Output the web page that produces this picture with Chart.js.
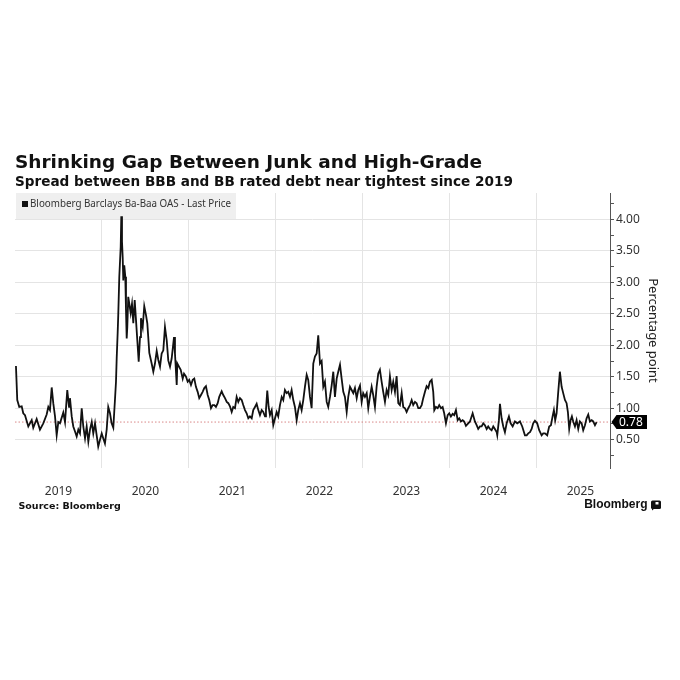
<!DOCTYPE html>
<html>
<head>
<meta charset="utf-8">
<script src="https://cdn.jsdelivr.net/npm/chart.js@4.4.1/dist/chart.umd.min.js"></script>
<style>
  html, body { margin: 0; padding: 0; background: #fff; }
  canvas { display: block; }
</style>
</head>
<body>
<canvas id="spread" width="680" height="680"></canvas>
<script>
// Bloomberg Barclays Ba-Baa OAS (decimal years / percentage points)
var times = [
  2019.011, 2019.026, 2019.049, 2019.077, 2019.095, 2019.115, 2019.153, 2019.192, 2019.210, 2019.249,
  2019.287, 2019.325, 2019.364, 2019.383, 2019.402, 2019.422, 2019.440, 2019.460, 2019.479, 2019.498,
  2019.517, 2019.555, 2019.575, 2019.601, 2019.621, 2019.632, 2019.652, 2019.670, 2019.690, 2019.709,
  2019.728, 2019.747, 2019.767, 2019.785, 2019.805, 2019.824, 2019.843, 2019.862, 2019.882, 2019.900,
  2019.920, 2019.939, 2019.957, 2019.977, 2019.997, 2020.015, 2020.034, 2020.054, 2020.072, 2020.092,
  2020.111, 2020.130, 2020.149, 2020.161, 2020.169, 2020.180, 2020.187, 2020.199, 2020.215, 2020.222,
  2020.230, 2020.238, 2020.245, 2020.256, 2020.268, 2020.276, 2020.284, 2020.291, 2020.302, 2020.314,
  2020.330, 2020.345, 2020.360, 2020.376, 2020.391, 2020.406, 2020.422, 2020.437, 2020.448, 2020.468,
  2020.486, 2020.506, 2020.521, 2020.544, 2020.571, 2020.590, 2020.609, 2020.629, 2020.647, 2020.667,
  2020.686, 2020.705, 2020.724, 2020.744, 2020.762, 2020.782, 2020.801, 2020.828, 2020.839, 2020.859,
  2020.866, 2020.885, 2020.905, 2020.928, 2020.943, 2020.966, 2020.985, 2021.003, 2021.023, 2021.043,
  2021.061, 2021.080, 2021.100, 2021.118, 2021.138, 2021.157, 2021.176, 2021.195, 2021.215, 2021.233,
  2021.253, 2021.272, 2021.291, 2021.310, 2021.330, 2021.348, 2021.376, 2021.394, 2021.414, 2021.434,
  2021.452, 2021.471, 2021.491, 2021.509, 2021.529, 2021.548, 2021.567, 2021.586, 2021.606, 2021.624,
  2021.644, 2021.663, 2021.682, 2021.701, 2021.721, 2021.739, 2021.759, 2021.778, 2021.797, 2021.816,
  2021.836, 2021.854, 2021.874, 2021.885, 2021.900, 2021.916, 2021.931, 2021.951, 2021.969, 2021.989,
  2022.008, 2022.026, 2022.046, 2022.066, 2022.084, 2022.103, 2022.123, 2022.141, 2022.161, 2022.180,
  2022.199, 2022.218, 2022.238, 2022.256, 2022.276, 2022.295, 2022.314, 2022.333, 2022.353, 2022.371,
  2022.391, 2022.410, 2022.429, 2022.448, 2022.468, 2022.486, 2022.506, 2022.525, 2022.544, 2022.563,
  2022.583, 2022.601, 2022.621, 2022.640, 2022.659, 2022.678, 2022.698, 2022.716, 2022.736, 2022.755,
  2022.774, 2022.793, 2022.813, 2022.831, 2022.851, 2022.870, 2022.889, 2022.908, 2022.928, 2022.946,
  2022.966, 2022.985, 2023.003, 2023.023, 2023.043, 2023.061, 2023.080, 2023.100, 2023.118, 2023.138,
  2023.157, 2023.176, 2023.195, 2023.215, 2023.233, 2023.253, 2023.272, 2023.291, 2023.310, 2023.330,
  2023.348, 2023.368, 2023.387, 2023.406, 2023.425, 2023.445, 2023.463, 2023.483, 2023.502, 2023.521,
  2023.540, 2023.560, 2023.578, 2023.598, 2023.617, 2023.636, 2023.655, 2023.675, 2023.693, 2023.713,
  2023.732, 2023.751, 2023.770, 2023.790, 2023.808, 2023.820, 2023.839, 2023.859, 2023.877, 2023.897,
  2023.916, 2023.934, 2023.954, 2023.974, 2023.992, 2024.011, 2024.031, 2024.049, 2024.069, 2024.089,
  2024.107, 2024.126, 2024.146, 2024.164, 2024.184, 2024.210, 2024.230, 2024.261, 2024.287, 2024.307,
  2024.325, 2024.345, 2024.364, 2024.383, 2024.402, 2024.422, 2024.440, 2024.460, 2024.479, 2024.498,
  2024.517, 2024.537, 2024.544, 2024.563, 2024.575, 2024.594, 2024.613, 2024.632, 2024.652, 2024.678,
  2024.698, 2024.721, 2024.747, 2024.774, 2024.805, 2024.831, 2024.862, 2024.882, 2024.900, 2024.920,
  2024.939, 2024.957, 2024.977, 2025.003, 2025.026, 2025.054, 2025.072, 2025.092, 2025.118, 2025.141,
  2025.161, 2025.180, 2025.195, 2025.210, 2025.226, 2025.245, 2025.264, 2025.284, 2025.302, 2025.322,
  2025.341, 2025.356, 2025.371, 2025.387, 2025.402, 2025.417, 2025.437, 2025.456, 2025.475, 2025.494,
  2025.514, 2025.532, 2025.552, 2025.571, 2025.590, 2025.609, 2025.629, 2025.647, 2025.667, 2025.686
];
var values = [
  1.67, 1.13, 1.02, 1.03, 0.92, 0.89, 0.71, 0.81, 0.69, 0.83,
  0.66, 0.76, 0.90, 1.02, 0.97, 1.33, 1.08, 0.87, 0.57, 0.78,
  0.76, 0.93, 0.78, 1.29, 1.02, 1.16, 0.87, 0.71, 0.63, 0.55,
  0.66, 0.60, 1.00, 0.71, 0.52, 0.71, 0.47, 0.66, 0.78, 0.60,
  0.76, 0.57, 0.39, 0.50, 0.60, 0.52, 0.44, 0.66, 1.02, 0.92,
  0.76, 0.69, 1.13, 1.42, 1.79, 2.19, 2.48, 3.09, 3.56, 4.05,
  3.65, 3.40, 3.03, 3.27, 3.09, 2.56, 2.11, 2.29, 2.77, 2.66,
  2.51, 2.66, 2.35, 2.72, 2.40, 2.08, 1.74, 2.13, 2.43, 2.29,
  2.62, 2.48, 2.35, 1.88, 1.71, 1.58, 1.71, 1.91, 1.77, 1.66,
  1.87, 1.92, 2.29, 2.08, 1.76, 1.66, 1.79, 2.13, 1.87, 1.37,
  1.71, 1.66, 1.61, 1.47, 1.55, 1.50, 1.42, 1.45, 1.37, 1.45,
  1.47, 1.34, 1.26, 1.16, 1.21, 1.26, 1.32, 1.35, 1.21, 1.13,
  1.00, 1.05, 1.05, 1.02, 1.08, 1.18, 1.27, 1.21, 1.16, 1.10,
  1.08, 1.03, 0.94, 1.02, 1.00, 1.18, 1.10, 1.16, 1.13, 1.05,
  0.97, 0.92, 0.84, 0.87, 0.84, 0.97, 1.02, 1.07, 0.97, 0.89,
  0.97, 0.94, 0.87, 0.97, 1.28, 1.02, 0.89, 0.97, 0.73, 0.84,
  0.94, 0.87, 1.05, 1.18, 1.13, 1.29, 1.24, 1.26, 1.18, 1.29,
  1.13, 1.02, 0.81, 0.97, 1.08, 0.97, 1.13, 1.34, 1.53, 1.45,
  1.18, 1.00, 1.71, 1.82, 1.87, 2.16, 1.71, 1.75, 1.34, 1.42,
  1.10, 1.02, 1.18, 1.36, 1.58, 1.18, 1.47, 1.58, 1.69, 1.47,
  1.26, 1.18, 0.94, 1.18, 1.34, 1.29, 1.24, 1.32, 1.16, 1.29,
  1.36, 1.10, 1.24, 1.18, 1.24, 1.00, 1.18, 1.34, 1.21, 1.02,
  1.34, 1.55, 1.61, 1.42, 1.26, 1.10, 1.29, 1.21, 1.51, 1.29,
  1.42, 1.26, 1.51, 1.08, 1.05, 1.24, 1.02, 1.00, 0.94, 1.00,
  1.05, 1.13, 1.05, 1.10, 1.08, 1.00, 1.00, 1.05, 1.16, 1.26,
  1.35, 1.32, 1.42, 1.45, 1.26, 0.97, 1.02, 1.00, 1.05, 1.00,
  1.02, 0.92, 0.76, 0.89, 0.92, 0.87, 0.91, 0.89, 0.97, 0.81,
  0.84, 0.79, 0.81, 0.79, 0.72, 0.76, 0.79, 0.92, 0.79, 0.73,
  0.67, 0.71, 0.71, 0.76, 0.73, 0.67, 0.71, 0.67, 0.65, 0.71,
  0.67, 0.62, 0.57, 0.81, 1.07, 0.84, 0.71, 0.62, 0.76, 0.87,
  0.76, 0.71, 0.79, 0.76, 0.79, 0.71, 0.57, 0.57, 0.60, 0.62,
  0.67, 0.76, 0.80, 0.76, 0.65, 0.57, 0.60, 0.60, 0.57, 0.71,
  0.73, 0.87, 0.97, 0.81, 0.92, 1.26, 1.58, 1.34, 1.24, 1.13,
  1.08, 0.94, 0.67, 0.81, 0.87, 0.79, 0.71, 0.81, 0.67, 0.79,
  0.76, 0.65, 0.73, 0.84, 0.90, 0.79, 0.81, 0.79, 0.73, 0.78
];
var yearTicks = [2019, 2020, 2021, 2022, 2023, 2024, 2025];
var yTicks = [0.25, 0.5, 0.75, 1, 1.25, 1.5, 1.75, 2, 2.25, 2.5, 2.75, 3, 3.25, 3.5, 3.75, 4, 4.25];
var yLabelled = [0.5, 1, 1.5, 2, 2.5, 3, 3.5, 4];

var chartTitle = 'Shrinking Gap Between Junk and High-Grade';
var chartSubtitle = 'Spread between BBB and BB rated debt near tightest since 2019';
var seriesName = 'Bloomberg Barclays Ba-Baa OAS - Last Price';
var axisTitle = 'Percentage point';
var sourceText = 'Source: Bloomberg';
var lastValue = values[values.length - 1];

var decorations = {
  id: 'decorations',
  beforeDatasetsDraw: function(chart) {
    var ctx = chart.ctx;
    var area = chart.chartArea;
    var y = chart.scales.y.getPixelForValue(lastValue);
    ctx.save();
    // last price reference line
    ctx.strokeStyle = 'rgba(205, 95, 95, 0.75)';
    ctx.lineWidth = 1;
    ctx.setLineDash([1.5, 2]);
    ctx.beginPath();
    ctx.moveTo(area.left, y);
    ctx.lineTo(area.right, y);
    ctx.stroke();
    ctx.setLineDash([]);
    // legend box
    ctx.fillStyle = '#efefef';
    ctx.fillRect(area.left + 1, area.top, 220, 26);
    ctx.fillStyle = '#111';
    ctx.fillRect(area.left + 7, area.top + 8, 6, 6);
    ctx.fillStyle = '#333';
    ctx.font = '10px "Noto Sans"';
    ctx.textBaseline = 'alphabetic';
    ctx.fillText(seriesName, area.left + 15, area.top + 14, 201);
    ctx.restore();
  },
  afterDraw: function(chart) {
    var ctx = chart.ctx;
    var area = chart.chartArea;
    var y = chart.scales.y.getPixelForValue(lastValue);
    ctx.save();
    // titles
    ctx.fillStyle = '#111';
    ctx.textAlign = 'left';
    ctx.textBaseline = 'alphabetic';
    ctx.font = 'bold 18.5px "DejaVu Sans"';
    ctx.fillText(chartTitle, 15, 168);
    ctx.font = 'bold 13.6px "DejaVu Sans"';
    ctx.fillText(chartSubtitle, 15, 185.5);
    // last price tag
    var x0 = area.right + 1.5;
    ctx.fillStyle = '#000';
    ctx.beginPath();
    ctx.moveTo(x0, y);
    ctx.lineTo(x0 + 5, y - 7);
    ctx.lineTo(x0 + 35.5, y - 7);
    ctx.lineTo(x0 + 35.5, y + 7);
    ctx.lineTo(x0 + 5, y + 7);
    ctx.closePath();
    ctx.fill();
    ctx.fillStyle = '#fff';
    ctx.font = '12px "Noto Sans"';
    ctx.textBaseline = 'middle';
    ctx.fillText(lastValue.toFixed(2), x0 + 7.5, y + 0.5);
    // footer
    ctx.textBaseline = 'alphabetic';
    ctx.fillStyle = '#111';
    ctx.font = 'bold 9.5px "DejaVu Sans"';
    ctx.fillText(sourceText, 18.5, 509);
    ctx.font = 'bold 12px "Liberation Sans"';
    ctx.textAlign = 'right';
    ctx.fillText('Bloomberg', 647.5, 508);
    // logo mark
    ctx.fillStyle = '#111';
    ctx.beginPath();
    ctx.roundRect(651, 500.5, 10, 8.5, 1.5);
    ctx.fill();
    ctx.beginPath();
    ctx.moveTo(652, 508);
    ctx.lineTo(652, 510.5);
    ctx.lineTo(655, 508);
    ctx.fill();
    ctx.fillStyle = '#fff';
    ctx.fillRect(655.5, 502, 3, 2.5);
    ctx.restore();
  }
};

var spch = document.getElementById('spread').getContext('2d');

var spread = new Chart(spch, {
  type: 'line',
  data: {
    datasets: [{
      label: seriesName,
      data: times.map(function(t, i) { return { x: t, y: values[i] }; }),
      borderColor: '#111',
      borderWidth: 1.8,
      pointRadius: 0,
      tension: 0,
      fill: false
    }]
  },
  options: {
    responsive: false,
    animation: false,
    layout: {
      padding: { left: 15, top: 193, right: 0, bottom: 182 }
    },
    plugins: {
      legend: { display: false },
      tooltip: { enabled: false }
    },
    scales: {
      x: {
        type: 'linear',
        min: 2019,
        max: 2025.84,
        afterBuildTicks: function(scale) {
          scale.ticks = yearTicks.map(function(v) { return { value: v }; });
        },
        afterFit: function(scale) {
          scale.height = 30;
          scale.paddingLeft = 0;
          scale.paddingRight = 0;
        },
        border: { display: false },
        grid: {
          drawTicks: false,
          color: function(c) {
            return c.tick && c.tick.value === yearTicks[0] ? 'rgba(0,0,0,0)' : '#e4e4e4';
          }
        },
        ticks: {
          autoSkip: false,
          maxRotation: 0,
          labelOffset: 43.5,
          padding: 16,
          color: '#333',
          font: { family: 'Noto Sans', size: 12 },
          callback: function(v) { return String(v); }
        }
      },
      y: {
        position: 'right',
        min: 0.05,
        max: 4.42,
        afterBuildTicks: function(scale) {
          scale.ticks = yTicks.map(function(v) { return { value: v }; });
        },
        afterFit: function(scale) {
          scale.width = 70;
          scale.paddingTop = 0;
          scale.paddingBottom = 0;
        },
        border: { display: true, color: '#555', width: 1 },
        grid: {
          tickLength: 4,
          tickColor: '#555',
          color: function(c) {
            return c.tick && yLabelled.indexOf(c.tick.value) >= 0 ? '#e4e4e4' : 'rgba(0,0,0,0)';
          }
        },
        ticks: {
          autoSkip: false,
          padding: 2,
          color: '#333',
          font: { family: 'Noto Sans', size: 12 },
          callback: function(v) { return yLabelled.indexOf(v) >= 0 ? v.toFixed(2) : ''; }
        },
        title: {
          display: true,
          text: axisTitle,
          color: '#222',
          padding: 19,
          font: { family: 'Noto Sans', size: 13 }
        }
      }
    }
  },
  plugins: [decorations]
});
</script>
</body>
</html>
